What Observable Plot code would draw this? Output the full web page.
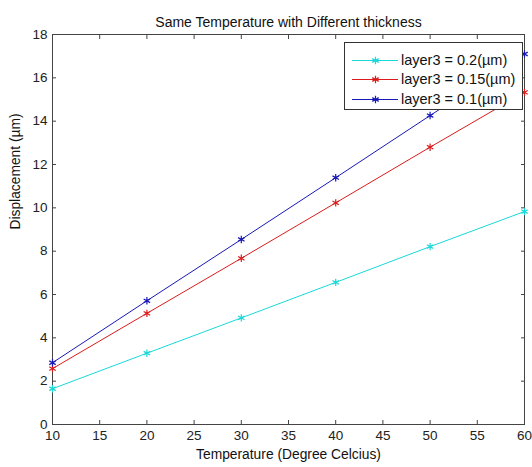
<!DOCTYPE html>
<html>
<head>
<meta charset="utf-8">
<script src="https://cdn.jsdelivr.net/npm/d3@7"></script>
<script src="https://cdn.jsdelivr.net/npm/@observablehq/plot@0.6"></script>
<style>
  body { margin: 0; background: #fff; }
  #wrap { position: relative; width: 532px; height: 467px; font-family: "Liberation Sans", Arial, sans-serif; }
  #legend { position: absolute; left: 344px; top: 42px; width: 179px; height: 68px; border: 1px solid #333; background: #fff; box-sizing: border-box; padding-top: 7px; }
  .row { display: flex; align-items: center; height: 19.5px; font-size: 14.5px; color: #111; }
  .row svg { margin-left: 7px; margin-right: 3px; }
</style>
</head>
<body>
<div id="wrap"></div>
<script>
const temps = [10, 20, 30, 40, 50, 60];
const cyanVals = [1.65, 3.29, 4.92, 6.56, 8.21, 9.83];
const redVals = [2.58, 5.13, 7.67, 10.23, 12.8, 15.33];
const blueVals = [2.85, 5.71, 8.54, 11.39, 14.26, 17.1];
const seriesNames = ["layer3 = 0.2(µm)", "layer3 = 0.15(µm)", "layer3 = 0.1(µm)"];
const seriesColors = ["#1ad8d8", "#dc1c1c", "#1818b8"];
const xTicks = [10, 15, 20, 25, 30, 35, 40, 45, 50, 55, 60];
const yTicks = [0, 2, 4, 6, 8, 10, 12, 14, 16, 18];
const titleText = "Same Temperature with Different thickness";
const xLabel = "Temperature (Degree Celcius)";
const yLabel = "Displacement (µm)";

const seriesVals = [cyanVals, redVals, blueVals];
const data = seriesVals.flatMap((vals, i) => vals.map((v, j) => ({t: temps[j], v, s: seriesNames[i]})));

const plot = Plot.plot({
  width: 532,
  height: 467,
  marginLeft: 52,
  marginRight: 8,
  marginTop: 34,
  marginBottom: 43,
  style: {fontFamily: "'Liberation Sans', Arial, sans-serif", fontSize: "13.5px", background: "#fff", color: "#222"},
  x: {domain: [10, 60]},
  y: {domain: [0, 18]},
  color: {domain: seriesNames, range: seriesColors},
  marks: [
    Plot.frame({stroke: "#444"}),
    Plot.axisX({ticks: xTicks, tickSize: 0, tickPadding: 6, label: null, fontSize: 13.5, fill: "#222"}),
    Plot.axisX({ticks: xTicks, tickSize: -4, text: null, label: null, stroke: "#444"}),
    Plot.axisX({anchor: "top", ticks: xTicks, tickSize: -4, text: null, label: null, stroke: "#444"}),
    Plot.axisY({ticks: yTicks, tickSize: 0, tickPadding: 5, label: null, fontSize: 13.5, fill: "#222"}),
    Plot.axisY({ticks: yTicks, tickSize: -4, text: null, label: null, stroke: "#444"}),
    Plot.axisY({anchor: "right", ticks: yTicks, tickSize: -4, text: null, label: null, stroke: "#444"}),
    Plot.line(data, {x: "t", y: "v", z: "s", stroke: "s", strokeWidth: 1}),
    Plot.dot(data, {x: "t", y: "v", stroke: "s", symbol: "asterisk", r: 3.5, strokeWidth: 1.2}),
    Plot.text([titleText], {frameAnchor: "top", dy: -17, fontSize: 14, fill: "#111"}),
    Plot.text([xLabel], {frameAnchor: "bottom", dy: 34, fontSize: 13.8, fill: "#111"}),
    Plot.text([yLabel], {frameAnchor: "left", rotate: -90, dx: -37, fontSize: 13.8, fill: "#111"})
  ]
});

const wrap = document.getElementById("wrap");
wrap.appendChild(plot);

const legend = document.createElement("div");
legend.id = "legend";
seriesNames.forEach((name, i) => {
  const row = document.createElement("div");
  row.className = "row";
  const sw = Plot.plot({
    width: 46, height: 12, margin: 0,
    x: {domain: [0, 1], axis: null}, y: {domain: [0, 1], axis: null},
    marks: [
      Plot.ruleY([0.5], {stroke: seriesColors[i], strokeWidth: 1}),
      Plot.dot([{x: 0.5, y: 0.5}], {x: "x", y: "y", symbol: "asterisk", r: 3.5, stroke: seriesColors[i], strokeWidth: 1.2})
    ]
  });
  row.appendChild(sw);
  const span = document.createElement("span");
  span.textContent = name;
  row.appendChild(span);
  legend.appendChild(row);
});
wrap.appendChild(legend);
</script>
</body>
</html>
